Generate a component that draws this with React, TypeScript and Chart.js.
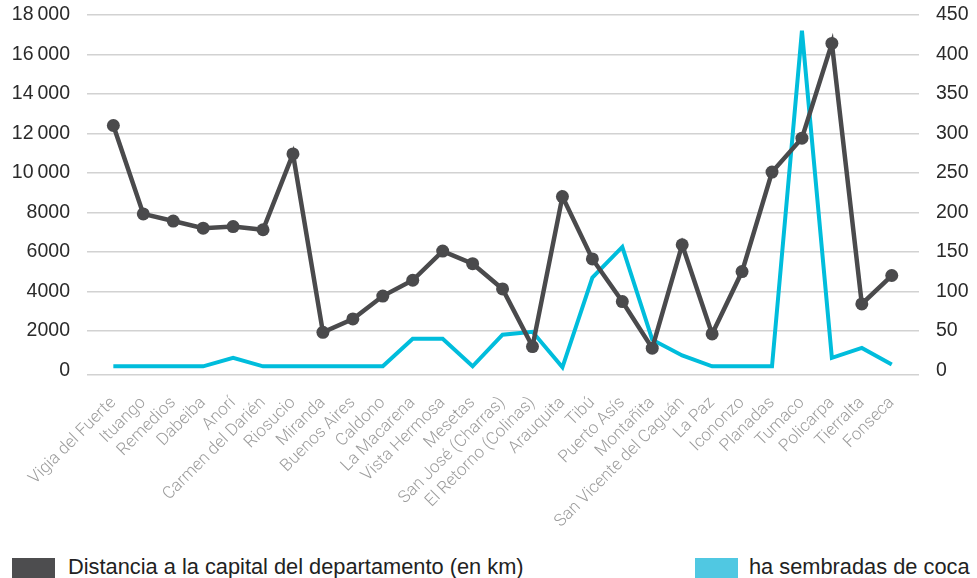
import React, { useEffect, useRef } from "react";
import { Chart, registerables } from "chart.js";

Chart.register(...registerables);

const municipios = [
  "Vigia del Fuerte", "Ituango", "Remedios", "Dabeiba", "Anorí", "Carmen del Darién",
  "Riosucio", "Miranda", "Buenos Aires", "Caldono", "La Macarena", "Vista Hermosa",
  "Mesetas", "San José (Charras)", "El Retorno (Colinas)", "Arauquita", "Tibú",
  "Puerto Asís", "Montañita", "San Vicente del Caguán", "La Paz", "Icononzo",
  "Planadas", "Tumaco", "Policarpa", "Tierralta", "Fonseca",
];

// ha sembradas de coca (left axis)
const cocaHa = [
  200, 200, 200, 200, 630, 200, 200, 200, 200, 200, 1600, 1600, 200, 1800, 1950,
  150, 4700, 6250, 1550, 750, 200, 200, 200, 17200, 630, 1130, 290,
];

// Distancia a la capital del departamento, km (right axis)
const distanciaKm = [
  310, 198, 189, 180, 182, 178, 274, 48, 65, 94, 114, 151, 135, 103, 30,
  220, 141, 87, 28, 159, 46, 125, 251, 294, 414, 84, 120,
];

const leftTickValues = [0, 2000, 4000, 6000, 8000, 10000, 12000, 14000, 16000, 18000];
const leftTickLabels = ["0", "2000", "4000", "6000", "8000", "10\u2009000", "12\u2009000", "14\u2009000", "16\u2009000", "18\u2009000"];
const rightTickValues = [0, 50, 100, 150, 200, 250, 300, 350, 400, 450];

const legendDistancia = "Distancia a la capital del departamento (en km)";
const legendCoca = "ha sembradas de coca";

const DARK = "#4a4a4c";
const CYAN = "#00bddc";
const LEFT_FLOOR = -240;
const RIGHT_FLOOR = -6;

export default function App() {
  const canvasRef = useRef<HTMLCanvasElement | null>(null);

  useEffect(() => {
    const canvas = canvasRef.current;
    if (!canvas) return;
    const chart = new Chart(canvas, {
      type: "line",
      data: {
        datasets: [
          {
            label: legendDistancia,
            data: distanciaKm.map((v, i) => ({ x: i, y: v })),
            yAxisID: "y1",
            borderColor: DARK,
            backgroundColor: DARK,
            borderWidth: 4.5,
            pointRadius: 6.5,
            pointBackgroundColor: DARK,
            pointBorderColor: DARK,
            pointBorderWidth: 0,
            tension: 0,
          },
          {
            label: legendCoca,
            data: cocaHa.map((v, i) => ({ x: i, y: v })),
            yAxisID: "y",
            borderColor: CYAN,
            backgroundColor: CYAN,
            borderWidth: 4,
            pointRadius: 0,
            tension: 0,
          },
        ],
      },
      options: {
        responsive: false,
        animation: false,
        devicePixelRatio: 1,
        layout: { padding: { top: 15, left: 0, right: 0, bottom: 0 } },
        plugins: { legend: { display: false }, tooltip: { enabled: false } },
        scales: {
          x: {
            type: "linear",
            min: -0.88,
            max: 26.91,
            grid: { display: false },
            border: { display: false },
            afterBuildTicks: (s: any) => {
              s.ticks = municipios.map((_, i) => ({ value: i }));
            },
            ticks: {
              autoSkip: false,
              minRotation: 45,
              maxRotation: 45,
              padding: 10,
              color: "#9c9c9c",
              font: { family: "Roboto", size: 17, weight: 300 },
              callback: (v: any) => {
                const n = Number(v);
                return Number.isInteger(n) && n >= 0 && n < municipios.length ? municipios[n] : "";
              },
            },
            afterFit: (s: any) => {
              s.height = 175;
            },
          },
          y: {
            type: "linear",
            position: "left",
            min: LEFT_FLOOR,
            max: 18000,
            border: { display: false },
            grid: {
              drawTicks: true,
              tickLength: 15,
              tickColor: "rgba(0,0,0,0)",
              lineWidth: 1.5,
              color: (ctx: any) => (ctx.tick && ctx.tick.value === 0 ? "rgba(0,0,0,0)" : "#d2d2d2"),
            },
            afterBuildTicks: (s: any) => {
              s.ticks = [LEFT_FLOOR, ...leftTickValues].map((value) => ({ value }));
            },
            ticks: {
              padding: 2,
              color: "#2a2a2a",
              font: { family: "Liberation Sans", size: 19.5 },
              callback: (v: any) => {
                const i = leftTickValues.indexOf(Number(v));
                return i >= 0 ? leftTickLabels[i] : "";
              },
            },
            afterFit: (s: any) => {
              s.width = 87;
            },
          },
          y1: {
            type: "linear",
            position: "right",
            min: RIGHT_FLOOR,
            max: 450,
            border: { display: false },
            grid: {
              display: true,
              drawOnChartArea: false,
              drawTicks: true,
              tickLength: 15,
              tickColor: "rgba(0,0,0,0)",
            },
            afterBuildTicks: (s: any) => {
              s.ticks = [RIGHT_FLOOR, ...rightTickValues].map((value) => ({ value }));
            },
            ticks: {
              padding: 2,
              color: "#2a2a2a",
              font: { family: "Liberation Sans", size: 19.5 },
              callback: (v: any) => {
                const n = Number(v);
                return rightTickValues.indexOf(n) >= 0 ? String(n) : "";
              },
            },
            afterFit: (s: any) => {
              s.width = 58;
            },
          },
        },
      },
    });
    return () => chart.destroy();
  }, []);

  const legendText: React.CSSProperties = {
    position: "absolute",
    top: 554,
    fontFamily: "Liberation Sans",
    fontSize: 21.8,
    lineHeight: "26px",
    color: "#222",
    whiteSpace: "nowrap",
  };

  return (
    <div style={{ position: "fixed", left: 0, top: 0, width: 977, height: 578, background: "#fff", overflow: "hidden" }}>
      <canvas ref={canvasRef} width={977} height={550} style={{ position: "absolute", left: 0, top: 0, width: 977, height: 550 }} />
      <div style={{ position: "absolute", left: 12, top: 558, width: 43, height: 20, background: "#4d4d4f" }} />
      <div style={{ ...legendText, left: 68 }}>{legendDistancia}</div>
      <div style={{ position: "absolute", left: 695, top: 558, width: 43, height: 20, background: "#50c8e2" }} />
      <div style={{ ...legendText, left: 749 }}>{legendCoca}</div>
    </div>
  );
}
